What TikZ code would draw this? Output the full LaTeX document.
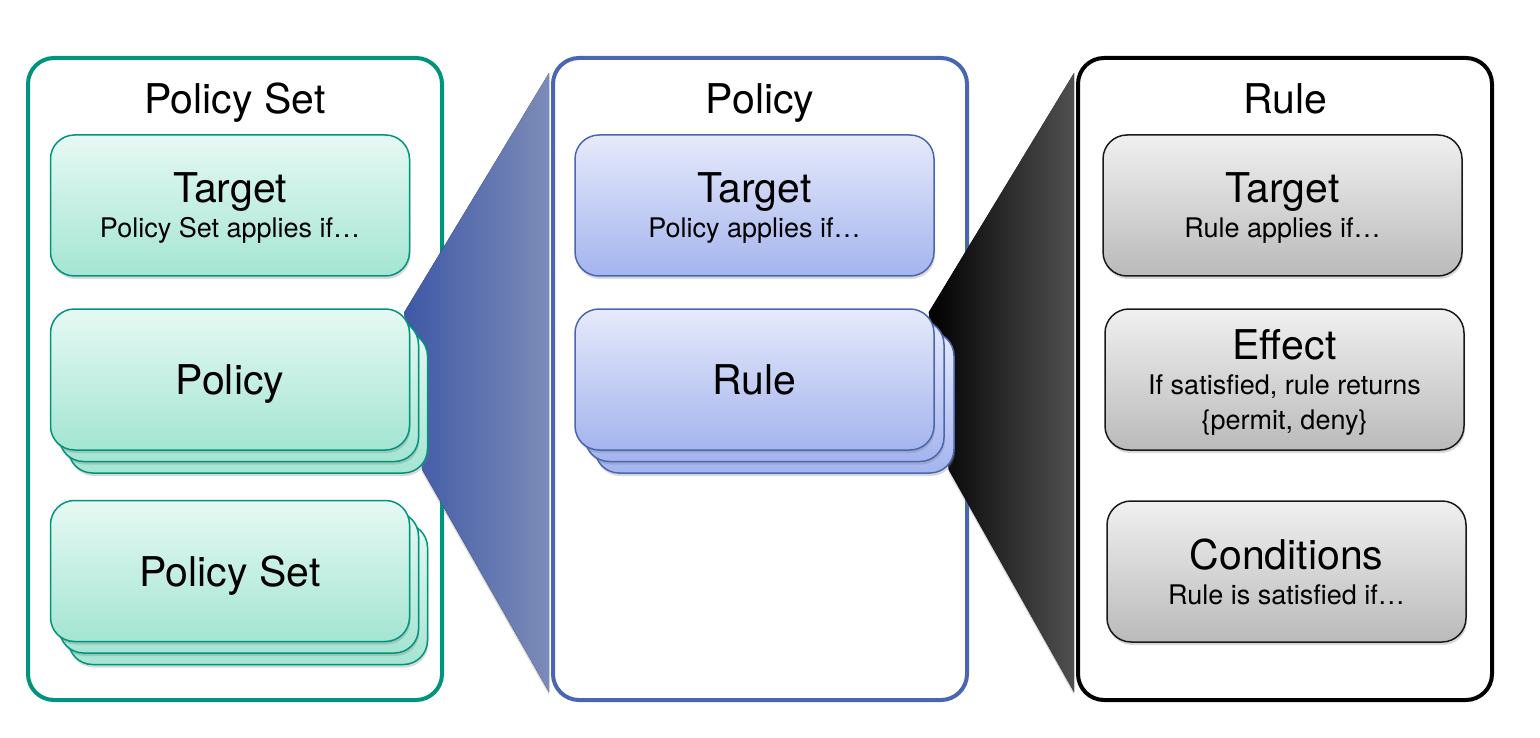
\documentclass[tikz,border=0pt]{standalone}
\usepackage{fontspec}
\setmainfont{TeX Gyre Heros}
\usepackage{xcolor}
\usepackage{tikz}
\usetikzlibrary{positioning, shadows, backgrounds}

\definecolor{setline}{RGB}{0,148,126}
\definecolor{settop}{RGB}{230,249,243}
\definecolor{setbot}{RGB}{164,229,210}
\definecolor{polline}{RGB}{74,102,176}
\definecolor{poltop}{RGB}{230,234,251}
\definecolor{polbot}{RGB}{164,180,238}
\definecolor{ruleline}{RGB}{25,25,25}
\definecolor{ruletop}{RGB}{240,240,240}
\definecolor{rulebot}{RGB}{186,186,186}
\definecolor{wedgeblue}{RGB}{62,88,165}
\definecolor{wedgelight}{RGB}{124,140,184}
\definecolor{wedgegray}{RGB}{80,80,80}

\newcommand{\largetxt}{\fontsize{41}{47}\selectfont}
\newcommand{\smalltxt}{\fontsize{27}{35}\selectfont}

\begin{document}
\begin{tikzpicture}[x=1pt, y=-1pt,
    outerframe/.style={draw, line width=4pt, rounded corners=26pt, minimum width=414pt, minimum height=642pt, inner sep=0pt},
    box/.style={draw, line width=1.5pt, rounded corners=24pt, minimum width=359pt, minimum height=141pt, inner sep=0pt, align=center, font=\smalltxt, text depth=-2pt, drop shadow={opacity=0.3, shadow xshift=1pt, shadow yshift=-3pt}},
    setbox/.style={box, draw=setline, top color=settop, bottom color=setbot},
    polbox/.style={box, draw=polline, top color=poltop, bottom color=polbot},
    rulebox/.style={box, draw=ruleline, top color=ruletop, bottom color=rulebot},
    heading/.style={anchor=base, font=\largetxt},
    wedge/.style={drop shadow={opacity=0.3, shadow xshift=0pt, shadow yshift=-3pt}}]
  \path[use as bounding box] (0,0) rectangle (1540,738);

  % policy set column
  \node[heading] (settitle) at (235,114) {Policy Set};
  \node[setbox] (settarget) at (230,205.5) {{\largetxt Target}\\Policy Set applies if…};
  \foreach \k in {2,1} {
    \node[setbox] (setpol\k) at (230+9*\k,379.5+11.5*\k) {};
  }
  \node[setbox] (setpol) at (230,379.5) {{\largetxt Policy}};
  \foreach \k in {2,1} {
    \node[setbox] (setset\k) at (230+9*\k,571+11.5*\k) {};
  }
  \node[setbox] (setset) at (230,571) {{\largetxt Policy Set}};

  % policy column
  \node[heading] (poltitle) at (760,114) {Policy};
  \node[polbox] (poltarget) at (754.5,205.5) {{\largetxt Target}\\Policy applies if…};
  \foreach \k in {2,1} {
    \node[polbox] (polrule\k) at (754.5+10*\k,379.5+11.5*\k) {};
  }
  \node[polbox] (polrule) at (754.5,379.5) {{\largetxt Rule}};

  % rule column
  \node[heading] (ruletitle) at (1285,114) {Rule};
  \node[rulebox] (ruletarget) at (1282.5,205.5) {{\largetxt Target}\\Rule applies if…};
  \node[rulebox] (ruleeffect) at (1284.5,379.5) {{\largetxt Effect}\\If satisfied, rule returns\\\{permit, deny\}};
  \node[rulebox] (rulecond) at (1286.5,571.5) {{\largetxt Conditions}\\Rule is satisfied if…};

  \begin{scope}[on background layer]
    \node[outerframe, draw=setline] (setframe) at (235,379) {};
    \node[outerframe, draw=polline] (polframe) at (760,379) {};
    \node[outerframe, draw=black] (ruleframe) at (1285,379) {};
    % zoom wedges
    \fill[wedge, left color=wedgeblue, right color=wedgelight]
      ([shift={(-6,4)}]setpol.north east) -- ([shift={(-2,17)}]polframe.north west)
      -- ([shift={(-2,-10)}]polframe.south west) -- ([shift={(-6,-4)}]setpol2.south east) -- cycle;
    \fill[wedge, left color=black, right color=wedgegray]
      ([shift={(-6,4)}]polrule.north east) -- ([shift={(-2,17)}]ruleframe.north west)
      -- ([shift={(-2,-10)}]ruleframe.south west) -- ([shift={(-6,-4)}]polrule2.south east) -- cycle;
  \end{scope}
\end{tikzpicture}
\end{document}
